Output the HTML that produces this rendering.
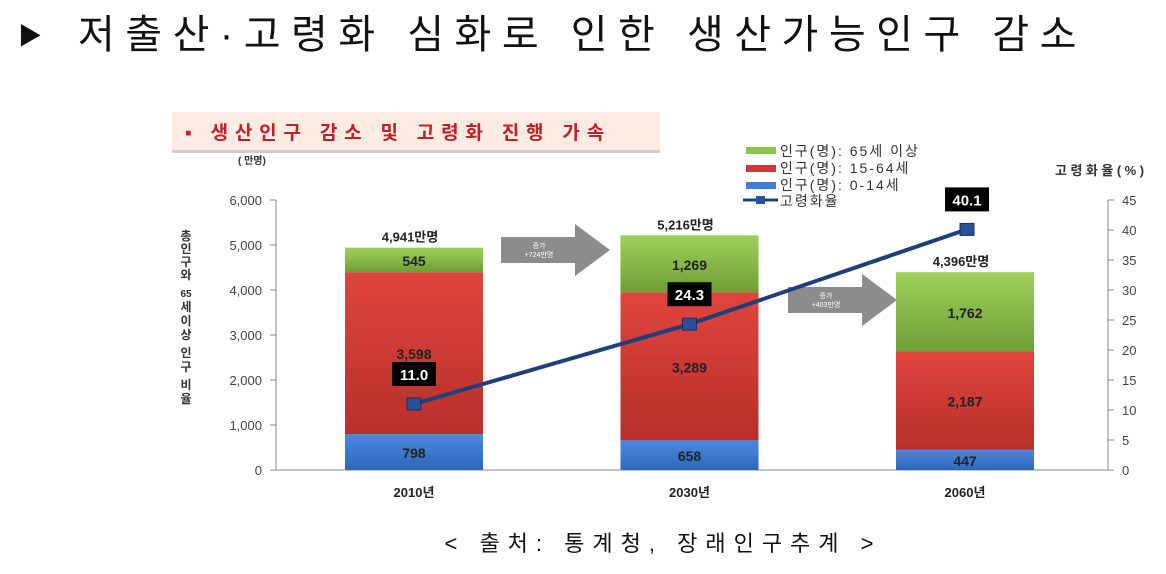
<!DOCTYPE html>
<html><head><meta charset="utf-8"><style>
body{margin:0;background:#fff;width:1166px;height:569px;overflow:hidden}
svg text{font-family:"Liberation Sans","Noto Sans CJK KR",sans-serif}
</style></head><body>
<svg id="chart" width="1166" height="569" xmlns="http://www.w3.org/2000/svg">
<defs>
<linearGradient id="gG" x1="0" y1="0" x2="0" y2="1"><stop offset="0" stop-color="#9fd05a"/><stop offset="1" stop-color="#6f9f35"/></linearGradient>
<linearGradient id="gR" x1="0" y1="0" x2="0" y2="1"><stop offset="0" stop-color="#e0443e"/><stop offset="1" stop-color="#b8302a"/></linearGradient>
<linearGradient id="gB" x1="0" y1="0" x2="0" y2="1"><stop offset="0" stop-color="#4a8ae0"/><stop offset="1" stop-color="#2f66b8"/></linearGradient>
</defs>
<text x="18" y="44" font-size="24" fill="#111">▶</text>
<text x="78" y="48" font-size="40" fill="#111" letter-spacing="10.5">저출산·고령화 심화로 인한 생산가능인구 감소</text>
<rect x="172" y="112" width="488" height="38" fill="#fcebe0"/>
<rect x="172" y="150" width="488" height="3" fill="#ccc"/>
<text x="185" y="139" font-size="19" font-weight="bold" fill="#c0202a" letter-spacing="6.8">▪ 생산인구 감소 및 고령화 진행 가속</text>
<text x="238" y="164" font-size="10" font-weight="bold" fill="#333">( 만명)</text>
<text x="1055" y="175" font-size="13" font-weight="bold" fill="#333" letter-spacing="3.5">고령화율(%)</text>
<g id="ytitle" font-size="12" font-weight="bold" fill="#333" text-anchor="middle"></g>
<g id="axes"></g>
<g id="bars"></g>
<g id="arrows"></g>
<g id="line"></g>
<g id="legend" font-size="14" fill="#333" letter-spacing="2">
<rect x="746" y="147" width="30" height="7" fill="#8cc34a"/><text x="780" y="156">인구(명): 65세 이상</text>
<rect x="746" y="165" width="30" height="7" fill="#d0363a"/><text x="780" y="173">인구(명): 15-64세</text>
<rect x="746" y="182" width="30" height="7" fill="#3f7fd6"/><text x="780" y="190">인구(명): 0-14세</text>
<line x1="743" y1="200" x2="778" y2="200" stroke="#1f3f7a" stroke-width="3"/><rect x="756" y="196" width="9" height="8" fill="#2c4f9a"/><text x="780" y="206">고령화율</text>
</g>
<text x="663" y="551" font-size="22" fill="#111" text-anchor="middle" letter-spacing="8">&lt; 출처: 통계청, 장래인구추계 &gt;</text>
</svg>
<script>
const years=["2010년","2030년","2060년"];
const young=[798,658,447];
const working=[3598,3289,2187];
const elderly=[545,1269,1762];
const totals=["4,941만명","5,216만명","4,396만명"];
const ratio=[11.0,24.3,40.1];
const leftTicks=[0,1000,2000,3000,4000,5000,6000];
const rightTicks=[0,5,10,15,20,25,30,35,40,45];
const arrowLabels=["+724만명","+403만명"];
const NS="http://www.w3.org/2000/svg";
const y0=470,yTop=200;
const yL=v=>y0-(v/6000)*(y0-yTop);
const yR=v=>y0-(v/45)*(y0-yTop);
const xC=i=>414+i*275.5;
const bw=138;
function el(p,t,a,txt){const e=document.createElementNS(NS,t);for(const k in a)e.setAttribute(k,a[k]);if(txt!=null)e.textContent=txt;p.appendChild(e);return e;}
const fmt=n=>n.toLocaleString('en-US');
const yt=document.getElementById('ytitle');
"총인구와".split('').concat(['65'],"세이상".split(''),"인구".split(''),"비율".split('')).forEach((c,i)=>{
 const arr=[240,253,266,279,297,311,325,339,357,371,389,403];
 el(yt,'text',{x:186,y:arr[i],'font-size':c==='65'?10:12},c);
});
const ax=document.getElementById('axes');
el(ax,'line',{x1:276,y1:yTop,x2:276,y2:y0,stroke:'#888'});
el(ax,'line',{x1:276,y1:y0,x2:1108,y2:y0,stroke:'#888'});
el(ax,'line',{x1:1108,y1:yTop,x2:1108,y2:y0,stroke:'#888'});
leftTicks.forEach(v=>{const y=yL(v);el(ax,'line',{x1:270,y1:y,x2:276,y2:y,stroke:'#888'});
 const t=el(ax,'text',{x:262,y:y+5,'font-size':13,fill:'#444','text-anchor':'end'},fmt(v));
 });
rightTicks.forEach(v=>{const y=yR(v);el(ax,'line',{x1:1108,y1:y,x2:1114,y2:y,stroke:'#888'});
 const t=el(ax,'text',{x:1122,y:y+5,'font-size':13,fill:'#444'},String(v));
 });
const bg=document.getElementById('bars');
years.forEach((yr,i)=>{
 const x=xC(i)-bw/2;
 const segs=[[0,young[i],'url(#gB)','bar-0-14'],[young[i],young[i]+working[i],'url(#gR)','bar-15-64'],[young[i]+working[i],young[i]+working[i]+elderly[i],'url(#gG)','bar-65plus']];
 const vals=[young[i],working[i],elderly[i]];
 segs.forEach((s,j)=>{const r=el(bg,'rect',{x:x,y:yL(s[1]),width:bw,height:yL(s[0])-yL(s[1]),fill:s[2]});
  
  const t=el(bg,'text',{x:xC(i),y:(yL(s[0])+yL(s[1]))/2+6,'font-size':14,'font-weight':'bold',fill:'#222','text-anchor':'middle'},fmt(vals[j]));
  });
 const tot=young[i]+working[i]+elderly[i];
 const tl=el(bg,'text',{x:xC(i)-4,y:yL(tot)-6,'font-size':13,'font-weight':'bold',fill:'#222','text-anchor':'middle'},totals[i]);
 
 const xl=el(bg,'text',{x:xC(i),y:497,'font-size':13,'font-weight':'bold',fill:'#222','text-anchor':'middle'},yr);
 
});
const ag=document.getElementById('arrows');
[[501,250],[788,300]].forEach((a,i)=>{
 const [x,cy]=a;
 const p=el(ag,'path',{d:`M${x} ${cy-13}H${x+74}V${cy-26}L${x+109} ${cy}L${x+74} ${cy+26}V${cy+13}H${x}Z`,fill:'#8c8c8c'});
 
 el(ag,'text',{x:x+38,y:cy-2,'font-size':7,fill:'#fff','text-anchor':'middle'},'증가');
 el(ag,'text',{x:x+38,y:cy+7,'font-size':7,fill:'#fff','text-anchor':'middle'},arrowLabels[i]);
});
const lg=document.getElementById('line');
const pts=ratio.map((v,i)=>[xC(i)+(i===2?2:0),yR(v)]);
const pl=el(lg,'polyline',{points:pts.map(p=>p.join(',')).join(' '),fill:'none',stroke:'#1f3f7a','stroke-width':4});

pts.forEach((p,i)=>{
 const m=el(lg,'rect',{x:p[0]-7,y:p[1]-6,width:14,height:12,fill:'#2c4f9a',stroke:'#1a3060'});
 
 const ly=p[1]-30;
 el(lg,'rect',{x:p[0]-22,y:ly-12,width:44,height:24,fill:'#000'});
 const t=el(lg,'text',{x:p[0],y:ly+6,'font-size':15,'font-weight':'bold',fill:'#fff','text-anchor':'middle'},ratio[i].toFixed(1));
 
});
</script>
</body></html>
